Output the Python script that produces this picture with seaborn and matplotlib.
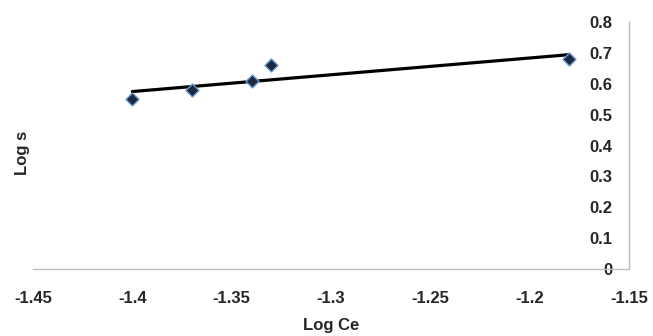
import matplotlib
matplotlib.use("Agg")
import matplotlib.pyplot as plt
import seaborn as sns
import pandas as pd

log_ce = [-1.40, -1.37, -1.34, -1.33, -1.18]
log_s = [0.55, 0.58, 0.61, 0.66, 0.68]
x_ticks = [-1.45, -1.4, -1.35, -1.3, -1.25, -1.2, -1.15]
x_tick_labels = ["-1.45", "-1.4", "-1.35", "-1.3", "-1.25", "-1.2", "-1.15"]
y_ticks = [0, 0.1, 0.2, 0.3, 0.4, 0.5, 0.6, 0.7, 0.8]
y_tick_labels = ["0", "0.1", "0.2", "0.3", "0.4", "0.5", "0.6", "0.7", "0.8"]

df = pd.DataFrame({"Log Ce": log_ce, "Log s": log_s})

sns.set_theme(style="white")
plt.rcParams["font.family"] = ["Liberation Sans", "DejaVu Sans"]
plt.rcParams["font.weight"] = "bold"

FS = 12

fig = plt.figure(figsize=(6.53, 3.36), dpi=100)
ax = fig.add_axes([33/653, 1-269/336, (629-33)/653, (269-22)/336])

sns.regplot(data=df, x="Log Ce", y="Log s", ci=None, scatter=False, truncate=True,
            line_kws=dict(color="black", lw=2.3, zorder=2), ax=ax)
sns.scatterplot(data=df, x="Log Ce", y="Log s", marker="D", s=44, color="#1b2a41",
                edgecolor="#6a9ad6", linewidth=1.0, zorder=3, ax=ax)

ax.set_xlim(-1.45, -1.15)
ax.set_ylim(0, 0.8)
ax.set_xticks(x_ticks)
ax.set_xticklabels(x_tick_labels, fontsize=FS, fontweight="bold")
ax.set_yticks(y_ticks)
ax.yaxis.tick_right()
ax.set_yticklabels(y_tick_labels, fontsize=FS, fontweight="bold")
for lbl in ax.get_yticklabels():
    lbl.set_horizontalalignment("right")
ax.tick_params(axis="y", length=0, pad=-12)
ax.tick_params(axis="x", length=0, pad=16)

for side in ["left", "top"]:
    ax.spines[side].set_visible(False)
for side in ["right", "bottom"]:
    ax.spines[side].set_visible(True)
    ax.spines[side].set_color("#bfbfbf")
    ax.spines[side].set_linewidth(1.0)

ax.set_xlabel("Log Ce", fontsize=FS, fontweight="bold")
ax.set_ylabel("Log s", fontsize=FS, fontweight="bold")
ax.yaxis.set_label_position("left")
ax.xaxis.set_label_coords(0.5, -0.2)
ax.yaxis.set_label_coords(-0.005, 0.47)
ax.grid(False)

fig.savefig("out.png", dpi=100)
